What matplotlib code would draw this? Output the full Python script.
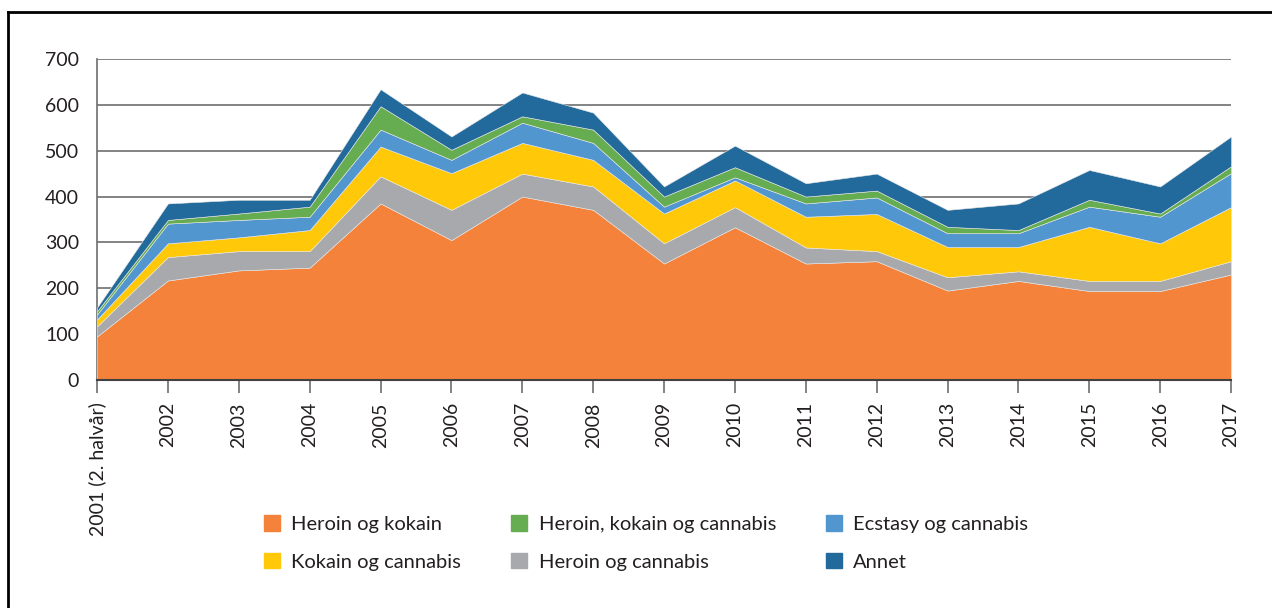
import numpy as np
import matplotlib
matplotlib.use('Agg')
import matplotlib.pyplot as plt
from matplotlib.patches import Patch
from matplotlib.lines import Line2D

plt.rcParams['font.family'] = ['Lato', 'DejaVu Sans']

# Data (numbers per year, stacked)
years = ['2001 (2. halvår)', '2002', '2003', '2004', '2005', '2006', '2007', '2008',
         '2009', '2010', '2011', '2012', '2013', '2014', '2015', '2016', '2017']
heroin_kokain = [95, 217, 239, 245, 385, 305, 400, 371, 254, 333, 254, 259, 195, 216, 194, 194, 230]
heroin_cannabis = [22, 51, 42, 36, 59, 66, 50, 51, 44, 44, 35, 22, 29, 21, 22, 22, 29]
kokain_cannabis = [15, 30, 30, 46, 65, 80, 67, 58, 65, 58, 67, 81, 66, 53, 118, 82, 118]
ecstasy_cannabis = [11, 43, 38, 29, 37, 29, 44, 37, 15, 7, 29, 36, 30, 30, 44, 58, 74]
heroin_kokain_cannabis = [7, 8, 14, 22, 51, 22, 14, 29, 22, 22, 15, 15, 14, 7, 15, 7, 15]
annet = [8, 36, 30, 15, 37, 29, 52, 37, 22, 47, 29, 37, 37, 58, 65, 59, 65]

c_orange = '#F4823A'
c_gray = '#A7A9AC'
c_yellow = '#FFC90A'
c_lblue = '#5296D0'
c_green = '#66AD52'
c_dblue = '#236A9C'

fig = plt.figure(figsize=(12.72, 6.08), dpi=100)
ax = fig.add_axes([0.0763, 0.375, 0.8915, 0.528])

x = np.arange(len(years))
ax.stackplot(x, heroin_kokain, heroin_cannabis, kokain_cannabis, ecstasy_cannabis,
             heroin_kokain_cannabis, annet,
             colors=[c_orange, c_gray, c_yellow, c_lblue, c_green, c_dblue],
             edgecolor='#e8e8e8', linewidth=0.4, zorder=3)

ax.set_xlim(0, len(years) - 1)
ax.set_ylim(0, 700)
ax.set_yticks(np.arange(0, 701, 100))
ax.set_xticks(x)
ax.set_xticklabels(years, rotation=90, fontsize=14, color='#231f20')
ax.tick_params(axis='x', length=9, width=1.2, color='#6d6e71', pad=7)
ax.tick_params(axis='y', length=0, pad=13, labelsize=14, labelcolor='#231f20')
ax.grid(axis='y', color='#6d6e71', linewidth=1.2, zorder=0)

for s in ['top', 'right']:
    ax.spines[s].set_visible(False)
ax.spines['left'].set_color('#6d6e71')
ax.spines['left'].set_linewidth(1.2)
ax.spines['bottom'].set_color('#414042')
ax.spines['bottom'].set_linewidth(1.5)
ax.spines['bottom'].set_zorder(5)

# legend (column-wise order so rows read like the original)
handles = [Patch(color=c_orange, label='Heroin og kokain'),
           Patch(color=c_yellow, label='Kokain og cannabis'),
           Patch(color=c_green, label='Heroin, kokain og cannabis'),
           Patch(color=c_gray, label='Heroin og cannabis'),
           Patch(color=c_lblue, label='Ecstasy og cannabis'),
           Patch(color=c_dblue, label='Annet')]
fig.legend(handles=handles, ncol=3, loc='center', bbox_to_anchor=(0.508, 0.107),
           frameon=False, fontsize=14.5, handlelength=0.8, handleheight=0.8,
           handletextpad=0.55, columnspacing=2.5, labelspacing=1.0,
           labelcolor='#231f20')

# frame around the figure (only top and left are visible in the original)
fig.add_artist(Line2D([8 / 1272, 1.0], [1 - 12 / 608, 1 - 12 / 608], color='black', linewidth=2))
fig.add_artist(Line2D([8 / 1272, 8 / 1272], [0.0, 1 - 12 / 608], color='black', linewidth=2))

fig.savefig('out.png', dpi=100)
